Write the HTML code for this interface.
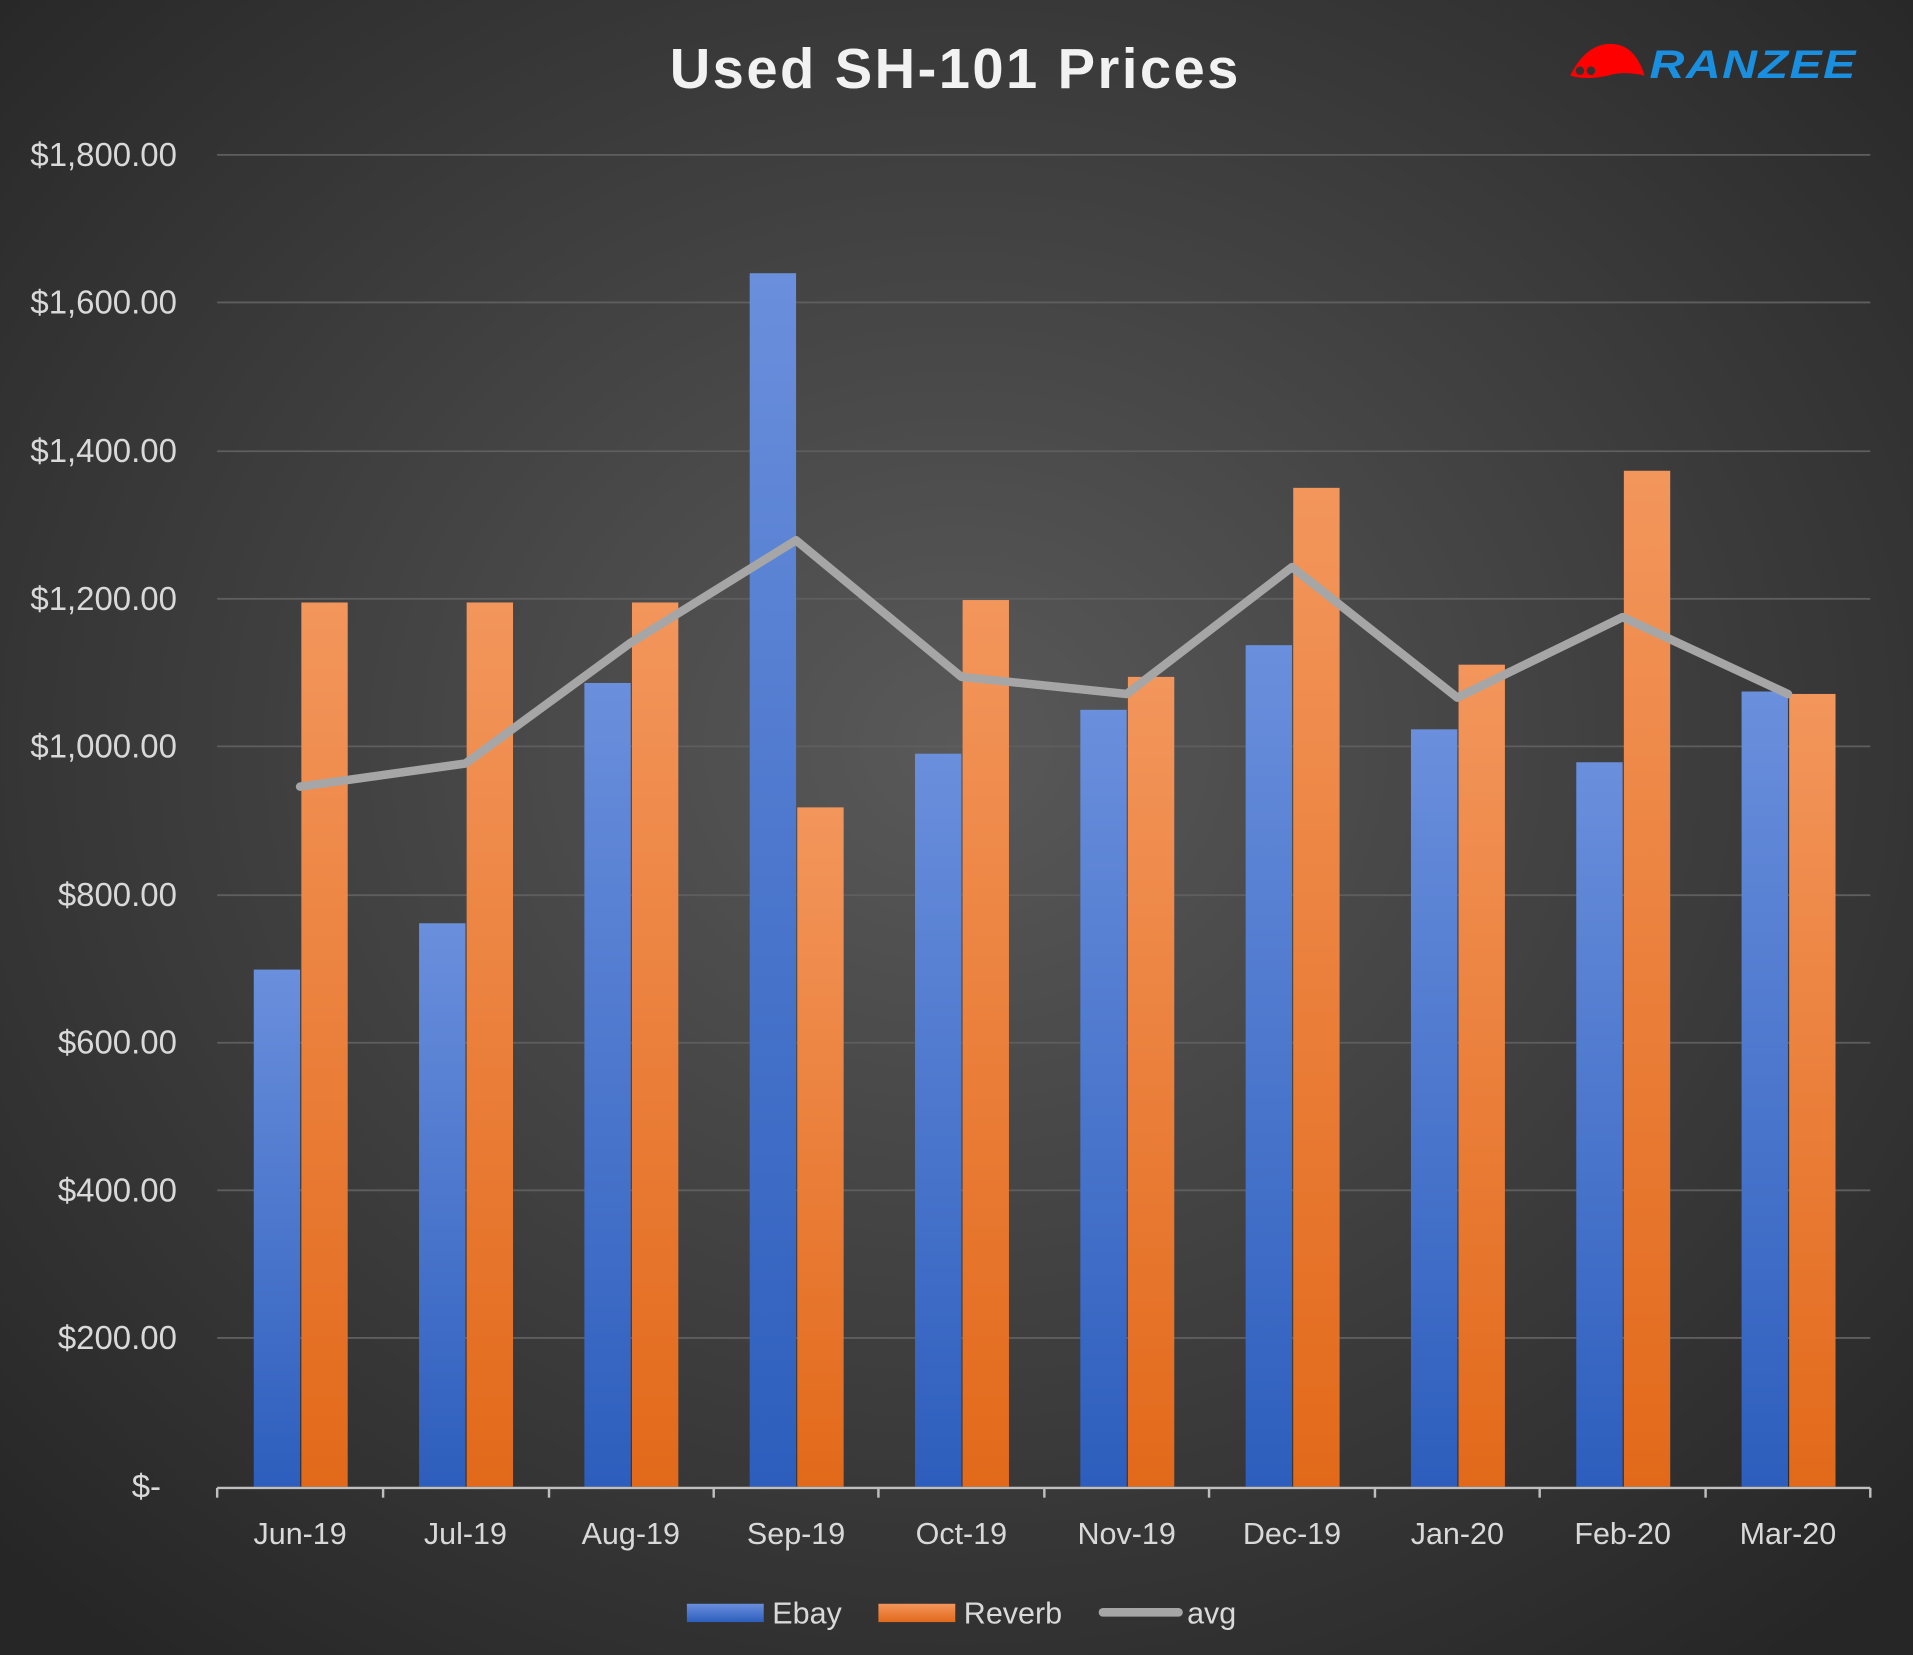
<!DOCTYPE html>
<html><head><style>
html,body{margin:0;padding:0;width:1913px;height:1655px;overflow:hidden;background:#3a3a3a}
svg{display:block}
text{font-family:"Liberation Sans","DejaVu Sans",sans-serif}
</style></head><body>
<svg width="1913" height="1655" viewBox="0 0 1568 1357" preserveAspectRatio="none" xmlns="http://www.w3.org/2000/svg">
<defs>
<radialGradient id="bg" cx="50%" cy="45%" r="70%">
<stop offset="0" stop-color="#595959"/><stop offset="1" stop-color="#262626"/>
</radialGradient>
<linearGradient id="gb" x1="0" y1="0" x2="0" y2="1"><stop offset="0" stop-color="#6a8fdc"/><stop offset="1" stop-color="#2d5ebd"/></linearGradient>
<linearGradient id="go" x1="0" y1="0" x2="0" y2="1"><stop offset="0" stop-color="#f3965c"/><stop offset="1" stop-color="#e2691a"/></linearGradient>
</defs>
<rect width="1568" height="1357" fill="url(#bg)"/>
<text x="783" y="72" text-anchor="middle" font-size="46" font-weight="bold" fill="#f2f2f2" letter-spacing="2">Used SH-101 Prices</text>
<path d="M1287,62 Q1300,36 1320,36 Q1340,36 1348,62 Q1330,58 1318,62 Q1300,66 1287,62Z" fill="#ff0000"/>
<circle cx="1295" cy="58" r="3.5" fill="#333"/><circle cx="1304" cy="58" r="3.5" fill="#333"/>
<text x="1352" y="64" font-size="33" font-weight="bold" font-style="italic" fill="#1a8fe0" letter-spacing="1" textLength="170" lengthAdjust="spacingAndGlyphs">RANZEE</text>
<g stroke="#5e5e5e" stroke-width="1.5">
<line x1="178" x2="1533" y1="127" y2="127"/><line x1="178" x2="1533" y1="248" y2="248"/>
<line x1="178" x2="1533" y1="370" y2="370"/><line x1="178" x2="1533" y1="491" y2="491"/>
<line x1="178" x2="1533" y1="612" y2="612"/><line x1="178" x2="1533" y1="734" y2="734"/>
<line x1="178" x2="1533" y1="855" y2="855"/><line x1="178" x2="1533" y1="976" y2="976"/>
<line x1="178" x2="1533" y1="1097" y2="1097"/>
</g>
<g font-size="27" fill="#d9d9d9" text-anchor="end">
<text x="145" y="136">$1,800.00</text><text x="145" y="257">$1,600.00</text>
<text x="145" y="379">$1,400.00</text><text x="145" y="500">$1,200.00</text>
<text x="145" y="621">$1,000.00</text><text x="145" y="743">$800.00</text>
<text x="145" y="864">$600.00</text><text x="145" y="985">$400.00</text>
<text x="145" y="1106">$200.00</text><text x="132" y="1228">$-</text>
</g>
<g fill="url(#gb)">
<rect x="208" y="795" width="38" height="424"/><rect x="343.5" y="757" width="38" height="462"/>
<rect x="479" y="560" width="38" height="659"/><rect x="614.5" y="224" width="38" height="995"/>
<rect x="750" y="618" width="38" height="601"/><rect x="885.5" y="582" width="38" height="637"/>
<rect x="1021" y="529" width="38" height="690"/><rect x="1156.5" y="598" width="38" height="621"/>
<rect x="1292" y="625" width="38" height="594"/><rect x="1427.5" y="567" width="38" height="652"/>
</g>
<g fill="url(#go)">
<rect x="247" y="494" width="38" height="725"/><rect x="382.5" y="494" width="38" height="725"/>
<rect x="518" y="494" width="38" height="725"/><rect x="653.5" y="662" width="38" height="557"/>
<rect x="789" y="492" width="38" height="727"/><rect x="924.5" y="555" width="38" height="664"/>
<rect x="1060" y="400" width="38" height="819"/><rect x="1195.5" y="545" width="38" height="674"/>
<rect x="1331" y="386" width="38" height="833"/><rect x="1466.5" y="569" width="38" height="650"/>
</g>
<polyline points="246,645 381.5,626 517,527 652.5,443 788,555 923.5,569 1059,465 1194.5,572 1330,506 1465.5,569" fill="none" stroke="#a6a6a6" stroke-width="7" stroke-linejoin="round" stroke-linecap="round"/>
<g stroke="#bfbfbf" stroke-width="2">
<line x1="178" x2="1533" y1="1220" y2="1220"/>
<line x1="178" x2="178" y1="1220" y2="1228"/><line x1="314" x2="314" y1="1220" y2="1228"/>
<line x1="450" x2="450" y1="1220" y2="1228"/><line x1="585" x2="585" y1="1220" y2="1228"/>
<line x1="720" x2="720" y1="1220" y2="1228"/><line x1="856" x2="856" y1="1220" y2="1228"/>
<line x1="991" x2="991" y1="1220" y2="1228"/><line x1="1127" x2="1127" y1="1220" y2="1228"/>
<line x1="1262" x2="1262" y1="1220" y2="1228"/><line x1="1398" x2="1398" y1="1220" y2="1228"/>
<line x1="1533" x2="1533" y1="1220" y2="1228"/>
</g>
<g font-size="25" fill="#d9d9d9" text-anchor="middle">
<text x="246" y="1266">Jun-19</text><text x="381.5" y="1266">Jul-19</text>
<text x="517" y="1266">Aug-19</text><text x="652.5" y="1266">Sep-19</text>
<text x="788" y="1266">Oct-19</text><text x="923.5" y="1266">Nov-19</text>
<text x="1059" y="1266">Dec-19</text><text x="1194.5" y="1266">Jan-20</text>
<text x="1330" y="1266">Feb-20</text><text x="1465.5" y="1266">Mar-20</text>
</g>
<rect x="563" y="1315" width="63" height="15" fill="url(#gb)"/>
<text x="633" y="1331" font-size="25" fill="#d9d9d9">Ebay</text>
<rect x="720" y="1315" width="63" height="15" fill="url(#go)"/>
<text x="790" y="1331" font-size="25" fill="#d9d9d9">Reverb</text>
<line x1="904" x2="966" y1="1322" y2="1322" stroke="#a6a6a6" stroke-width="7" stroke-linecap="round"/>
<text x="973" y="1331" font-size="25" fill="#d9d9d9">avg</text>
</svg>
</body></html>
